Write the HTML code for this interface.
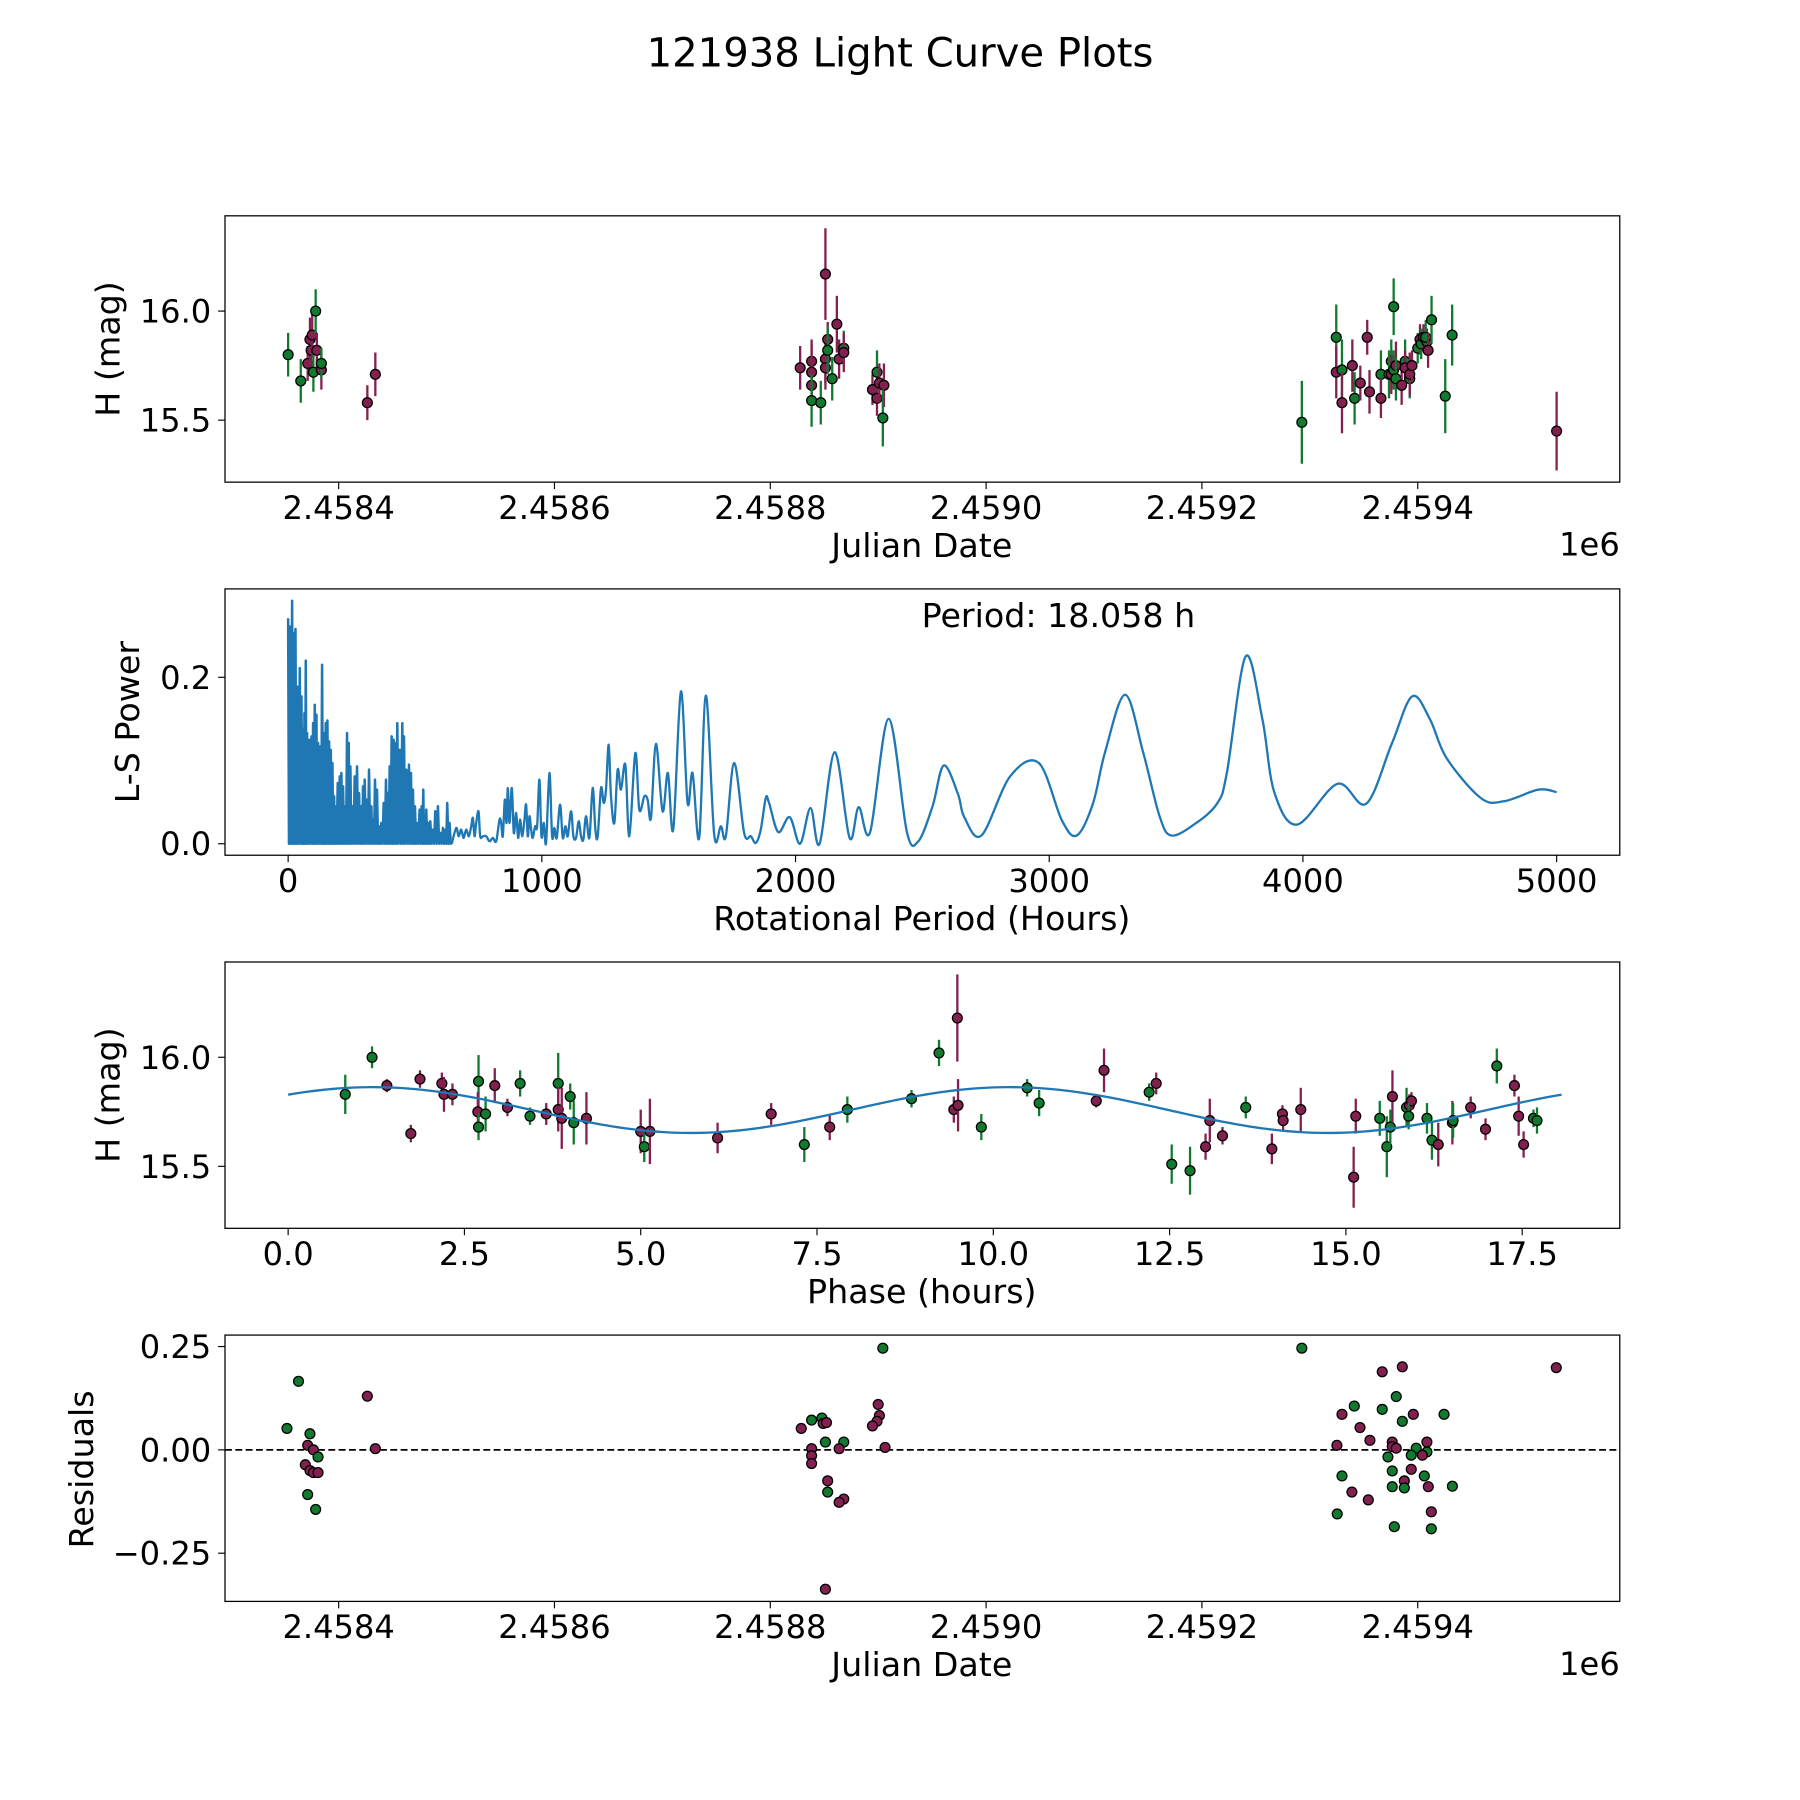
<!DOCTYPE html>
<html><head><meta charset="utf-8">
<style>
html,body{margin:0;padding:0;background:#fff;}
svg{display:block;}
text{font-family:"DejaVu Sans","Liberation Sans",sans-serif;fill:#000;}
</style></head>
<body>
<svg id="fig" xmlns="http://www.w3.org/2000/svg" width="1800" height="1800" viewBox="0 0 1568 1568">
<rect x="0" y="0" width="1568" height="1568" fill="#fff"/>
<text x="784" y="58" font-size="35" text-anchor="middle">121938 Light Curve Plots</text>
</svg>
<script>
// ---------- Panel 1: light curve ----------
const lcJD = [2458353.2,2458364.9,2458371.3,2458373.4,2458374.5,2458375.5,2458376.6,2458378.7,2458379.8,2458384.0,2458384.0,2458426.6,2458434.0,
 2458827.7,2458838.3,2458838.3,2458838.3,2458838.3,2458846.8,2458851.1,2458851.1,2458851.1,2458853.2,2458853.2,2458857.4,2458861.7,2458863.8,2458868.1,2458868.1,2458894.7,2458898.9,2458898.9,2458901.1,2458905.3,2458904.3,
 2459292.6,2459324.5,2459324.5,2459329.8,2459329.8,2459339.4,2459341.5,2459346.8,2459353.2,2459355.3,2459365.9,2459365.9,2459375.5,2459377.7,2459373.4,2459375.5,2459377.7,2459379.8,2459379.8,2459385.1,2459388.3,2459388.3,2459392.6,2459392.6,2459394.7,2459400.0,2459402.1,2459403.2,2459405.3,2459408.5,2459407.4,2459409.6,2459412.8,2459425.5,2459431.9,2459528.7];
const lcMag = [15.80,15.68,15.76,15.87,15.82,15.89,15.72,16.00,15.82,15.73,15.76,15.58,15.71,
 15.74,15.77,15.72,15.66,15.59,15.58,16.17,15.78,15.74,15.87,15.82,15.69,15.94,15.78,15.83,15.81,15.64,15.72,15.60,15.67,15.66,15.51,
 15.49,15.88,15.72,15.73,15.58,15.75,15.60,15.67,15.88,15.63,15.71,15.60,15.77,16.02,15.71,15.71,15.73,15.75,15.69,15.66,15.77,15.74,15.69,15.71,15.75,15.83,15.87,15.85,15.88,15.86,15.88,15.82,15.96,15.61,15.89,15.45];
const lcErr = [0.10,0.10,0.08,0.10,0.10,0.10,0.09,0.10,0.08,0.09,0.07,0.08,0.10,
 0.10,0.10,0.13,0.08,0.12,0.10,0.21,0.11,0.10,0.08,0.11,0.10,0.13,0.09,0.08,0.09,0.07,0.10,0.08,0.09,0.10,0.13,
 0.19,0.15,0.12,0.14,0.14,0.12,0.12,0.08,0.08,0.10,0.11,0.09,0.10,0.13,0.11,0.09,0.09,0.11,0.10,0.09,0.10,0.08,0.09,0.10,0.07,0.07,0.07,0.07,0.06,0.06,0.08,0.08,0.11,0.17,0.14,0.18];
const lcBand = ['g','g','m','m','m','m','g','g','m','m','g','m','m',
 'm','m','m','m','g','g','m','m','m','m','g','g','m','m','g','m','m','g','m','m','m','g',
 'g','g','m','g','m','m','g','m','m','m','g','m','g','g','g','m','g','m','g','m','g','m','g','m','m','g','m','g','m','m','g','m','g','g','g','m'];

// ---------- Panel 2: periodogram ----------
const denseHours = [0,6.6,15.7,22.3,28.9,35.4,45.9,52.5,59.0,64.3,69.5,74.8,82.7,91.8,98.4,105.0,111.5,118.1,127.3,133.8,140.4,148.3,154.8,161.4,167.9,174.5,181.1,186.3,195.5,203.4,209.9,216.5,224.4,232.2,238.8,245.3,253.2,262.4,271.6,279.5,288.6,295.2,301.8,310.9,318.8,328.0,334.6,342.4,350.3,358.2,367.4,376.5,385.7,393.6,400.2,408.0,415.9,422.5,430.3,439.5,450.0,456.6,465.8,476.3,484.1,492.0,499.9,507.7,518.2,526.1,532.7,537.9,544.5,552.4,560.2,570.7,579.9,590.4,599.6,610.1,619.3,627.1,636.3,645.5];
const densePower = [0.271,0.261,0.292,0.253,0.258,0.189,0.211,0.177,0.137,0.157,0.220,0.133,0.125,0.129,0.145,0.167,0.155,0.121,0.117,0.215,0.133,0.145,0.148,0.123,0.113,0.097,0.057,0.045,0.073,0.081,0.085,0.069,0.045,0.133,0.121,0.093,0.045,0.081,0.093,0.061,0.045,0.069,0.077,0.053,0.089,0.045,0.029,0.077,0.065,0.021,0.025,0.049,0.077,0.061,0.093,0.129,0.125,0.121,0.145,0.113,0.145,0.129,0.089,0.095,0.085,0.065,0.045,0.025,0.041,0.045,0.065,0.033,0.041,0.025,0.027,0.017,0.039,0.045,0.013,0.019,0.017,0.049,0.025,0.001];
const lsHours = [645.5,662.6,671.7,682.2,691.4,701.9,712.4,721.6,728.2,734.7,741.3,750.5,757.0,767.5,780.6,793.8,806.9,820.0,833.1,839.7,846.2,854.1,860.7,865.9,872.5,881.7,889.5,898.7,906.6,914.5,922.3,931.5,938.1,944.6,951.2,957.8,964.3,973.5,981.4,990.6,998.4,1007.6,1016.8,1029.9,1040.4,1049.6,1058.8,1071.9,1082.4,1092.9,1102.1,1115.2,1124.4,1134.9,1145.4,1154.6,1163.7,1174.2,1187.4,1200.5,1211.0,1220.2,1233.3,1243.8,1252.9,1263.5,1272.6,1285.8,1298.9,1312.0,1329.1,1344.8,1368.4,1384.2,1403.8,1417.0,1430.1,1449.8,1476.0,1497.0,1518.0,1548.2,1574.4,1594.1,1620.3,1646.6,1679.4,1705.6,1725.3,1758.1,1797.4,1823.7,1843.4,1863.0,1882.7,1895.8,1932,1977,2018,2059,2095,2154,2213,2249,2294,2367,2439,2484,2540,2584,2640,2665,2733,2846,2959,3050,3109,3172,3220,3299,3370,3434,3480,3570,3661,3700,3774,3840,3887,3977,4136,4249,4350,4430,4500,4566,4701,4792,4928,5000];
const lsPower = [0.001,0.019,0.009,0.017,0.007,0.017,0.009,0.021,0.031,0.009,0.025,0.039,0.009,0.009,0.009,0.003,0.007,0.003,0.029,0.025,0.009,0.053,0.025,0.067,0.025,0.067,0.013,0.037,0.007,0.029,0.009,0.029,0.047,0.009,0.033,0.017,0.007,0.021,0.021,0.077,0.009,0.025,0.001,0.085,0.009,0.019,0.007,0.047,0.007,0.021,0.009,0.039,0.009,0.007,0.027,0.009,0.005,0.033,0.007,0.067,0.017,0.009,0.067,0.049,0.065,0.119,0.057,0.025,0.089,0.065,0.095,0.009,0.109,0.041,0.057,0.053,0.031,0.120,0.039,0.085,0.017,0.183,0.049,0.085,0.007,0.178,0.011,0.021,0.009,0.097,0.013,0.009,0.001,0.017,0.055,0.049,0.014,0.032,0.0,0.043,0.0,0.110,0.007,0.044,0.014,0.150,0.014,0.003,0.045,0.094,0.060,0.032,0.010,0.081,0.097,0.028,0.010,0.048,0.110,0.179,0.110,0.034,0.010,0.023,0.048,0.085,0.225,0.150,0.062,0.023,0.072,0.048,0.120,0.177,0.150,0.103,0.055,0.051,0.065,0.062];
const periodLabel = ["Period: 18.058 h"];

// ---------- Panel 3: phase folded ----------
const phHours = [0.81,1.19,1.40,1.74,1.87,2.18,2.21,2.33,2.70,2.69,2.70,2.80,2.93,3.11,3.29,3.43,3.66,3.83,3.83,3.88,4.00,4.05,4.23,5.00,5.05,5.13,6.09,6.85,7.32,7.68,7.93,8.84,9.23,9.44,9.50,9.49,9.83,10.48,10.65,11.46,11.57,12.21,12.31,12.53,12.79,13.01,13.07,13.25,13.58,13.95,14.10,14.11,14.36,15.11,15.14,15.48,15.58,15.63,15.66,15.86,15.90,15.93,15.89,16.15,16.22,16.31,16.51,16.52,16.77,16.98,17.14,17.39,17.45,17.52,17.66,17.71];
const phMag = [15.83,16.00,15.87,15.65,15.90,15.88,15.83,15.83,15.89,15.75,15.68,15.74,15.87,15.77,15.88,15.73,15.74,15.88,15.76,15.72,15.82,15.70,15.72,15.66,15.59,15.66,15.63,15.74,15.60,15.68,15.76,15.81,16.02,15.76,15.78,16.18,15.68,15.86,15.79,15.80,15.94,15.84,15.88,15.51,15.48,15.59,15.71,15.64,15.77,15.58,15.74,15.71,15.76,15.45,15.73,15.72,15.59,15.68,15.82,15.77,15.78,15.80,15.73,15.72,15.62,15.60,15.70,15.71,15.77,15.67,15.96,15.87,15.73,15.60,15.72,15.71];
const phErr = [0.09,0.05,0.03,0.04,0.04,0.05,0.08,0.05,0.12,0.09,0.06,0.08,0.08,0.04,0.06,0.04,0.05,0.14,0.10,0.14,0.06,0.10,0.12,0.10,0.07,0.15,0.07,0.05,0.08,0.06,0.06,0.04,0.06,0.06,0.12,0.20,0.06,0.04,0.06,0.03,0.10,0.04,0.05,0.09,0.11,0.06,0.10,0.04,0.05,0.07,0.04,0.05,0.10,0.14,0.08,0.08,0.14,0.08,0.12,0.09,0.05,0.04,0.06,0.07,0.09,0.10,0.10,0.08,0.05,0.05,0.08,0.05,0.09,0.06,0.04,0.06];
const phBand = ['g','g','m','m','m','m','m','m','g','m','g','g','m','m','g','g','m','g','m','m','g','g','m','m','g','m','m','m','g','m','g','g','g','m','m','m','g','g','g','m','m','g','m','g','g','m','m','m','g','m','m','m','m','m','m','g','g','g','m','g','m','m','g','g','g','m','m','g','m','m','g','m','m','m','g','g'];
const fitParams = [15.758, 0.105, 1.2, 18.058]; // mean, amplitude, peak phase, period

// ---------- Panel 4: residuals ----------
const resJD = [2458352.1,2458362.8,2458426.6,2458434.0,2458373.4,2458371.3,2458376.6,2458380.9,2458369.1,2458373.4,2458376.6,2458380.9,2458371.3,2458378.7,
 2458828.7,2458838.3,2458847.9,2458849.0,2458852.1,2458838.3,2458851.1,2458868.1,2458838.3,2458838.3,2458863.8,2458853.2,2458853.2,2458868.1,2458863.8,2458851.1,2458900.0,2458901.1,2458898.9,2458894.7,2458906.4,2458904.3,
 2459367.1,2459385.7,2459380.1,2459341.2,2459329.8,2459367.1,2459395.9,2459424.4,2459385.7,2459346.5,2459355.7,2459376.4,2459408.5,2459325.1,2459376.4,2459380.1,2459398.6,2459408.5,2459372.4,2459394.0,2459404.3,2459394.0,2459376.4,2459329.8,2459406.1,2459387.6,2459376.4,2459387.6,2459409.8,2459432.1,2459339.0,2459354.2,2459412.6,2459325.4,2459378.3,2459412.6,2459528.4,2459292.6];
const resVal = [0.052,0.166,0.130,0.003,0.039,0.011,0.000,-0.017,-0.036,-0.050,-0.055,-0.055,-0.108,-0.144,
 0.052,0.072,0.077,0.064,0.066,0.003,0.019,0.019,-0.014,-0.033,0.003,-0.075,-0.102,-0.119,-0.127,-0.337,0.110,0.083,0.069,0.058,0.006,0.246,
 0.189,0.201,0.129,0.106,0.086,0.098,0.086,0.086,0.069,0.054,0.023,0.019,0.019,0.011,0.008,0.004,0.004,-0.005,-0.017,-0.013,-0.013,-0.047,-0.051,-0.063,-0.063,-0.075,-0.089,-0.092,-0.089,-0.088,-0.102,-0.121,-0.150,-0.155,-0.186,-0.191,0.199,0.246];
const resBand = ['g','g','m','m','g','m','m','g','m','m','m','m','g','g',
 'm','g','g','m','m','m','g','g','m','m','m','m','g','m','m','m','m','m','m','m','m','g',
 'm','m','g','g','m','g','m','g','g','m','m','m','m','m','m','m','g','g','g','g','m','m','g','g','g','m','g','g','m','g','m','m','m','g','g','g','m','g'];

const jdTicks = [2458400,2458600,2458800,2459000,2459200,2459400];
const jdTickLabels = ["2.4584","2.4586","2.4588","2.4590","2.4592","2.4594"];
const magTicks = [16.0,15.5];
const magTickLabels = ["16.0","15.5"];
const lsXTicks = [0,1000,2000,3000,4000,5000];
const lsYTicks = [0,0.2];
const lsYTickLabels = ["0.0","0.2"];
const phTicks = [0,2.5,5,7.5,10,12.5,15,17.5];
const phTickLabels = ["0.0","2.5","5.0","7.5","10.0","12.5","15.0","17.5"];
const resTicks = [0.25,0,-0.25];
const resTickLabels = ["0.25","0.00","\u22120.25"];

const NS = "http://www.w3.org/2000/svg";
const svg = document.getElementById('fig');
const COLORS = {g:'#117a2f', m:'#82204f'};
const FS = 28, LFS = 29;
function mk(tag, attrs, parent){
  const e = document.createElementNS(NS, tag);
  for (const k in attrs) e.setAttribute(k, attrs[k]);
  (parent||svg).appendChild(e);
  return e;
}
function lin(d0,d1,r0,r1){ return v => r0 + (v-d0)*(r1-r0)/(d1-d0); }

const L = 196, R = 1411;
function frame(top, bottom, name){
  const g = mk('g', {});
  
  
  return g;
}
function border(g, top, bottom, name){
  const r = mk('rect', {x:L, y:top, width:R-L, height:bottom-top, fill:'none', stroke:'#000', 'stroke-width':1.1}, g);
  
  
}
function xTicks(g, vals, labels, sx, bottom, name){
  vals.forEach((v,i)=>{
    const x = sx(v);
    const t = mk('line', {x1:x, x2:x, y1:bottom, y2:bottom+6, stroke:'#000', 'stroke-width':1}, g);
    
    
    const tx = mk('text', {x:x, y:bottom+32, 'font-size':FS, 'text-anchor':'middle'}, g);
    tx.textContent = labels[i];
    
    
  });
}
function yTicks(g, vals, labels, sy, name){
  vals.forEach((v,i)=>{
    const y = sy(v);
    const t = mk('line', {x1:L-6, x2:L, y1:y, y2:y, stroke:'#000', 'stroke-width':1}, g);
    
    
    const tx = mk('text', {x:L-12, y:y+10, 'font-size':FS, 'text-anchor':'end'}, g);
    tx.textContent = labels[i];
    
    
  });
}
function label(g, txt, x, y, rot, name){
  const t = mk('text', {x:x, y:y, 'font-size':LFS, 'text-anchor':'middle'}, g);
  if (rot) t.setAttribute('transform', 'rotate(-90 '+x+' '+y+')');
  t.textContent = txt;
  
  
}
function pointWithErr(g, x, y, y1, y2, c, name){
  if (y1 !== null){
    const e = mk('line', {x1:x, x2:x, y1:y1, y2:y2, stroke:c, 'stroke-width':2}, g);
    
    
  }
  const p = mk('circle', {cx:x, cy:y, r:4.3, fill:c, stroke:'#000', 'stroke-width':1.1}, g);
  
  
}

// ----- Panel 1 -----
{
  const top=188, bottom=420;
  const sx = lin(2458400, 2458600, 295, 483);
  const sy = lin(16.0, 15.5, 271, 366);
  const g = frame(top,bottom,'light-curve-panel');
  const cp = mk('clipPath', {id:'c1'}, g); mk('rect',{x:L,y:top,width:R-L,height:bottom-top},cp);
  const pg = mk('g', {'clip-path':'url(#c1)'}, g);
  lcJD.forEach((jd,i)=>{
    pointWithErr(pg, sx(jd), sy(lcMag[i]), sy(lcMag[i]+lcErr[i]), sy(lcMag[i]-lcErr[i]), COLORS[lcBand[i]], 'light-curve-point');
  });
  border(g, top, bottom, 'light-curve-axes');
  xTicks(g, jdTicks, jdTickLabels, sx, bottom, 'light-curve-x');
  yTicks(g, magTicks, magTickLabels, sy, 'light-curve-y');
  label(g, 'Julian Date', 803, 485, false, 'light-curve-x-title');
  label(g, 'H (mag)', 104, 304, true, 'light-curve-y-title');
  const o = mk('text', {x:1411, y:484, 'font-size':FS, 'text-anchor':'end'}, g);
  o.textContent = '1e6';
  
  
}

// ----- Panel 2 -----
{
  const top=513, bottom=745;
  const sx = lin(0, 5000, 251, 1356);
  const sy = lin(0, 0.2, 735, 590);
  const g = frame(top,bottom,'periodogram-panel');
  let d = '';
  for (let i=0;i<denseHours.length;i++){
    const x = sx(denseHours[i]);
    d += (i===0?'M':'L') + x.toFixed(2)+','+sy(densePower[i]).toFixed(2);
    const nx = i<denseHours.length-1 ? sx(denseHours[i+1]) : x;
    d += 'L'+((x+nx)/2).toFixed(2)+','+sy(0).toFixed(2);
  }
  const dp = mk('path', {d:d, fill:'none', stroke:'#1f77b4', 'stroke-width':2.2, 'stroke-linejoin':'round'}, g);
  
  
  const pts = lsHours.map((h,i)=>[sx(h), sy(lsPower[i])]);
  let s = 'M'+pts[0][0]+','+pts[0][1];
  for (let i=0;i<pts.length-1;i++){
    const p0 = pts[Math.max(0,i-1)], p1=pts[i], p2=pts[i+1], p3=pts[Math.min(pts.length-1,i+2)];
    const c1x = p1[0]+(p2[0]-p0[0])/6, c1y = p1[1]+(p2[1]-p0[1])/6;
    const c2x = p2[0]-(p3[0]-p1[0])/6, c2y = p2[1]-(p3[1]-p1[1])/6;
    s += 'C'+c1x.toFixed(2)+','+c1y.toFixed(2)+' '+c2x.toFixed(2)+','+c2y.toFixed(2)+' '+p2[0].toFixed(2)+','+p2[1].toFixed(2);
  }
  const sp = mk('path', {d:s, fill:'none', stroke:'#1f77b4', 'stroke-width':2}, g);
  
  
  border(g, top, bottom, 'periodogram-axes');
  xTicks(g, lsXTicks, lsXTicks.map(String), sx, bottom, 'periodogram-x');
  yTicks(g, lsYTicks, lsYTickLabels, sy, 'periodogram-y');
  label(g, 'Rotational Period (Hours)', 803, 810, false, 'periodogram-x-title');
  label(g, 'L-S Power', 121, 629, true, 'periodogram-y-title');
  const pl = mk('text', {x:922, y:546, 'font-size':LFS, 'text-anchor':'middle'}, g);
  pl.textContent = periodLabel[0];
  
  
}

// ----- Panel 3 -----
{
  const top=838, bottom=1070;
  const sx = lin(0, 17.5, 251, 1326);
  const sy = lin(16.0, 15.5, 921, 1016);
  const g = frame(top,bottom,'phase-panel');
  const cp = mk('clipPath', {id:'c3'}, g); mk('rect',{x:L,y:top,width:R-L,height:bottom-top},cp);
  const pg = mk('g', {'clip-path':'url(#c3)'}, g);
  phHours.forEach((h,i)=>{
    pointWithErr(pg, sx(h), sy(phMag[i]), sy(phMag[i]+phErr[i]), sy(phMag[i]-phErr[i]), COLORS[phBand[i]], 'phase-point');
  });
  let d='';
  const N=200;
  for (let k=0;k<=N;k++){
    const p = fitParams[3]*k/N;
    const m = fitParams[0] + fitParams[1]*Math.cos(4*Math.PI*(p-fitParams[2])/fitParams[3]);
    d += (k?'L':'M')+sx(p).toFixed(2)+','+sy(m).toFixed(2);
  }
  const fp = mk('path', {d:d, fill:'none', stroke:'#1f77b4', 'stroke-width':2}, pg);
  
  
  border(g, top, bottom, 'phase-axes');
  xTicks(g, phTicks, phTickLabels, sx, bottom, 'phase-x');
  yTicks(g, magTicks, magTickLabels, sy, 'phase-y');
  label(g, 'Phase (hours)', 803, 1135, false, 'phase-x-title');
  label(g, 'H (mag)', 104, 954, true, 'phase-y-title');
}

// ----- Panel 4 -----
{
  const top=1163, bottom=1395;
  const sx = lin(2458400, 2458600, 295, 483);
  const sy = lin(0, 0.25, 1263, 1173);
  const g = frame(top,bottom,'residuals-panel');
  const zl = mk('line', {x1:L, x2:R, y1:sy(0), y2:sy(0), stroke:'#000', 'stroke-width':1.6, 'stroke-dasharray':'6,3'}, g);
  
  
  resJD.forEach((jd,i)=>{
    pointWithErr(g, sx(jd), sy(resVal[i]), null, null, COLORS[resBand[i]], 'residual-point');
  });
  border(g, top, bottom, 'residuals-axes');
  xTicks(g, jdTicks, jdTickLabels, sx, bottom, 'residuals-x');
  yTicks(g, resTicks, resTickLabels, sy, 'residuals-y');
  label(g, 'Julian Date', 803, 1460, false, 'residuals-x-title');
  label(g, 'Residuals', 81, 1280, true, 'residuals-y-title');
  const o = mk('text', {x:1411, y:1459, 'font-size':FS, 'text-anchor':'end'}, g);
  o.textContent = '1e6';
  
  
}
</script>
</body></html>
